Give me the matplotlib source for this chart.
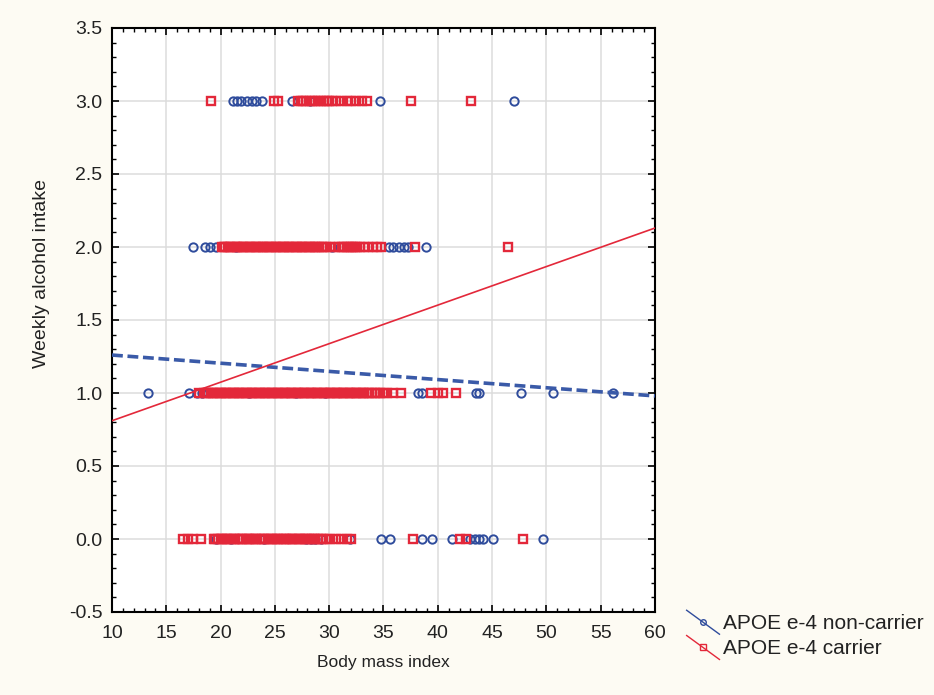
import matplotlib
matplotlib.use("Agg")
import matplotlib.pyplot as plt
from matplotlib.lines import Line2D
from matplotlib.legend_handler import HandlerBase
from matplotlib.ticker import MultipleLocator

plt.rcParams['font.family'] = ['Liberation Sans', 'DejaVu Sans']

# ---------------- data ----------------
# APOE e-4 non-carrier (blue circles): BMI values at each alcohol-intake level
nc_bmi_0 = [19.6, 21.0, 24.0, 27.9, 28.3, 28.7, 29.2, 31.9, 34.8, 35.6, 38.5, 39.5,
            41.3, 43.0, 43.4, 43.8, 44.2, 45.1, 49.7]
nc_bmi_1 = [13.3, 17.1, 17.8, 18.3, 22.6, 26.9, 29.6, 38.2, 38.5, 43.5, 43.8,
            47.7, 50.6, 56.1]
nc_bmi_2 = [17.5, 18.6, 19.0, 19.6, 21.4, 30.3, 35.5, 35.9, 36.4, 36.9, 37.3, 38.9]
nc_bmi_3 = [21.1, 21.5, 21.9, 22.4, 22.9, 23.3, 23.8, 26.6, 28.2, 34.7, 47.0]

# APOE e-4 carrier (red squares)
c_bmi_0 = [16.5, 17.0, 17.5, 18.2,
           19.4, 19.5, 19.8, 20.0, 20.1, 20.4, 20.6, 20.7, 21.0, 21.2, 21.3, 21.6,
           21.8, 22.0, 22.1, 22.4, 22.6, 22.7, 23.0, 23.2, 23.3, 23.6, 23.8, 24.0,
           24.1, 24.4, 24.6, 24.7, 25.0, 25.2, 25.3, 25.6, 25.8, 26.0, 26.1, 26.4,
           26.6, 26.7, 27.0, 27.2, 27.3, 27.6, 27.8, 28.0, 28.1, 28.4, 28.6, 28.7,
           29.0, 29.2, 29.4, 29.7,
           30.1, 30.6, 31.1, 31.6, 32.0, 37.7, 42.0, 42.6, 47.8]
c_bmi_1 = [18.0, 18.5, 18.7, 18.8, 19.1, 19.3, 19.4, 19.7, 19.9, 20.0, 20.3, 20.5,
           20.6, 20.9, 21.1, 21.2, 21.5, 21.7, 21.8, 22.1, 22.3, 22.4, 22.7, 22.9,
           23.0, 23.3, 23.5, 23.6, 23.9, 24.1, 24.2, 24.5, 24.7, 24.8, 25.1, 25.3,
           25.4, 25.7, 25.9, 26.0, 26.3, 26.5, 26.6, 26.9, 27.1, 27.2, 27.5, 27.7,
           27.8, 28.1, 28.3, 28.4, 28.7, 28.9, 29.0, 29.3, 29.5, 29.6, 29.9, 30.1,
           30.2, 30.5, 30.7, 30.8, 31.1, 31.3, 31.4, 31.7, 31.9, 32.0, 32.3, 32.5,
           32.6, 32.9, 33.1, 33.2, 33.5, 33.7, 33.9, 34.2, 34.4, 34.7, 35.0, 35.3,
           35.9, 36.6, 39.4, 40.0, 40.5, 41.7]
c_bmi_2 = [20.1, 20.3, 20.4, 20.7, 20.9, 21.0, 21.3, 21.5, 21.6, 21.9, 22.1, 22.2,
           22.5, 22.7, 22.8, 23.1, 23.3, 23.4, 23.7, 23.9, 24.0, 24.3, 24.5, 24.6,
           24.9, 25.1, 25.2, 25.5, 25.7, 25.8, 26.1, 26.3, 26.4, 26.7, 26.9, 27.0,
           27.3, 27.5, 27.6, 27.9, 28.1, 28.2, 28.5, 28.7, 28.8, 29.1, 29.3, 29.5,
           29.7, 30.1, 30.5, 30.9, 31.2, 31.4, 31.6, 31.8, 32.0, 32.2, 32.4, 32.6,
           32.8, 33.2, 33.6, 34.0, 34.4, 34.8, 37.9, 46.5]
c_bmi_3 = [19.1, 24.9, 25.3, 27.1, 27.4, 27.6, 27.9, 28.2, 28.4, 28.7, 29.0, 29.2,
           29.5, 29.8, 30.0, 30.3, 30.6, 31.1, 31.6, 32.0, 32.5, 33.0, 33.5, 37.5,
           43.1]

intake_levels = [0.0, 1.0, 2.0, 3.0]

# fitted regression lines (values at the x-range ends)
fit_bmi = [10, 60]
fit_noncarrier = [1.26, 0.98]
fit_carrier = [0.81, 2.13]

labels = ["APOE e-4 non-carrier", "APOE e-4 carrier"]
x_ticks = [10, 15, 20, 25, 30, 35, 40, 45, 50, 55, 60]
y_ticks = [-0.5, 0.0, 0.5, 1.0, 1.5, 2.0, 2.5, 3.0, 3.5]

# ---------------- style ----------------
BLUE = '#2f4c9c'
BLUE_LINE = '#3a5aa8'
RED = '#e3283a'
TXT = '#222222'

fig = plt.figure(figsize=(9.34, 6.95), dpi=100, facecolor='#fdfbf3')
ax = fig.add_axes([112/934, 1-612/695, (655-112)/934, (612-28)/695])
ax.set_facecolor('white')

nc_rows = [nc_bmi_0, nc_bmi_1, nc_bmi_2, nc_bmi_3]
c_rows = [c_bmi_0, c_bmi_1, c_bmi_2, c_bmi_3]

for lvl, xs in zip(intake_levels, nc_rows):
    ax.plot(xs, [lvl]*len(xs), linestyle='none', marker='o', ms=6,
            mfc='none', mec=BLUE, mew=1.4, zorder=3)
for lvl, xs in zip(intake_levels, c_rows):
    ax.plot(xs, [lvl]*len(xs), linestyle='none', marker='s', ms=6,
            mfc='none', mec=RED, mew=1.7, zorder=4)

ax.plot(fit_bmi, fit_noncarrier, color=BLUE_LINE, lw=2.6,
        linestyle=(0, (3, 1.3)), zorder=5)
ax.plot(fit_bmi, fit_carrier, color=RED, lw=1.2, zorder=5)

ax.set_xlim(10, 60)
ax.set_ylim(-0.5, 3.5)
ax.set_xticks(x_ticks)
ax.set_yticks(y_ticks)
ax.set_yticklabels([f"{v:.1f}" for v in y_ticks])
ax.xaxis.set_minor_locator(MultipleLocator(1))
ax.yaxis.set_minor_locator(MultipleLocator(0.1))
ax.grid(True, which='major', color='#dcdcdc', lw=1.1, zorder=0)
ax.set_axisbelow(True)

for s in ax.spines.values():
    s.set_color('black')
    s.set_linewidth(1.5)

ax.tick_params(which='both', direction='in', top=True, right=True, colors='black')
ax.tick_params(which='major', length=5, width=1.2)
ax.tick_params(which='minor', length=3, width=1.0)
ax.tick_params(axis='x', which='major', pad=9, labelsize=14, labelcolor=TXT)
ax.tick_params(axis='y', which='major', pad=7, labelsize=14, labelcolor=TXT)

ax.set_xlabel("Body mass index", fontsize=12.5, color=TXT, labelpad=10)
ax.set_ylabel("Weekly alcohol intake", fontsize=14, color=TXT)
ax.yaxis.set_label_coords(-0.115, 0.58)


class DiagHandler(HandlerBase):
    def create_artists(self, legend, orig_handle, xdescent, ydescent, width,
                       height, fontsize, trans):
        x0, x1 = -xdescent + 0.1*width, -xdescent + width
        y0, y1 = -ydescent + height + 0.2*fontsize, -ydescent - 0.25*fontsize
        ln = Line2D([x0, x1], [y0, y1], color=orig_handle.get_color(), lw=1.0,
                    transform=trans)
        mk = Line2D([(x0+x1)/2], [(y0+y1)/2], linestyle='none',
                    marker=orig_handle.get_marker(), ms=4, mfc='none',
                    mec=orig_handle.get_markeredgecolor(), mew=1.0, transform=trans)
        return [ln, mk]


h1 = Line2D([], [], color=BLUE, marker='o', mec=BLUE)
h2 = Line2D([], [], color=RED, marker='s', mec=RED)
fig.legend([h1, h2], labels, handler_map={Line2D: DiagHandler()},
           loc='upper left', bbox_to_anchor=(683/934, 1-614/695),
           frameon=False, fontsize=15, handlelength=1.75, handletextpad=0.15,
           labelspacing=0.3, borderpad=0, borderaxespad=0, labelcolor=TXT)

fig.savefig("out.png", dpi=100, facecolor=fig.get_facecolor())
